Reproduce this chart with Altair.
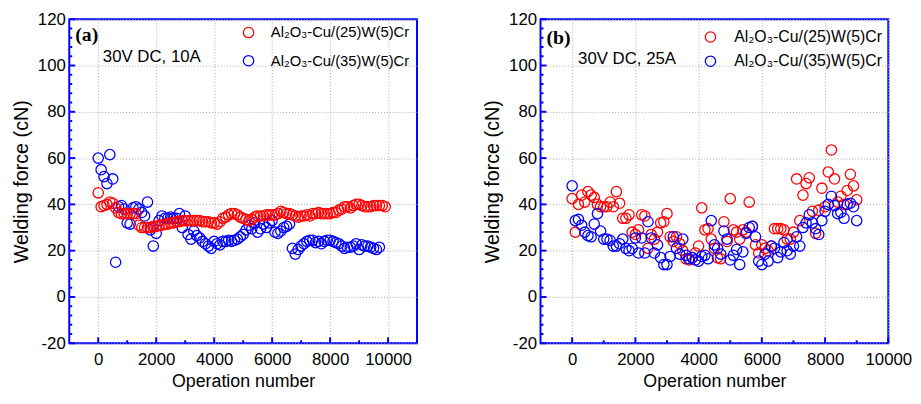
import altair as alt
import pandas as pd

SERIES = ["Al₂O₃-Cu/(25)W(5)Cr", "Al₂O₃-Cu/(35)W(5)Cr"]
COLORS = ["#ff0000", "#0000ff"]

# ---------- panel (a): 30V DC, 10A ----------
a_red_ops = list(range(0, 10000, 100))
a_red = [45, 39, 39.5, 40, 41, 40.5, 38.5, 36.5, 36, 36,
         36, 36, 36, 36, 31, 30, 30, 30, 30, 30.5,
         30.5, 31, 31, 31.5, 31.5, 32, 32, 32.5, 32.5, 33,
         33, 33, 33, 33, 33, 33, 32.5, 32.5, 32.5, 32,
         32, 31.5, 32.5, 34, 34.5, 35.5, 36, 36, 35.5, 34.5,
         34, 33.5, 33, 33.5, 34.5, 35, 35, 35, 35.5, 35.5,
         35.5, 35.5, 36, 37, 36.5, 36, 36, 35.5, 35, 34.5,
         35, 35, 35.5, 35, 36, 36, 36.5, 36, 36, 36,
         36, 36.5, 36.5, 37.5, 38, 39, 39, 38.5, 39.5, 40,
         40, 39.5, 39, 39, 39, 39.5, 39.5, 39.5, 39.5, 39]
a_blue_ops = list(range(0, 9800, 100))
a_blue = [60, 55, 52, 49, 61.5, 51, 15, 39, 39.5, 38,
          32, 31.5, 38.5, 39, 38, 36.5, 35, 41, 29, 22,
          27.5, 33, 35, 34, 34, 34.5, 34, 34, 36, 30,
          35, 27, 25, 28.5, 26.5, 25.5, 24, 23, 22, 21,
          24, 23, 22.5, 24, 24, 24.5, 24, 24.5, 25, 26,
          27, 29, 31, 29.5, 32, 28, 29.5, 31.5, 30, 32,
          33, 28, 27.5, 28.5, 30, 30.5, 31.5, 21, 18.5, 20.5,
          22, 23, 24, 24.5, 24.5, 23.5, 24, 23, 24, 24.5,
          24.5, 24, 23.5, 23, 22, 21, 21.5, 21.5, 22, 23,
          20.5, 22.5, 22, 22, 21.5, 21, 20.5, 21.5]

# ---------- panel (b): 30V DC, 25A ----------
b_ops = list(range(0, 9100, 100))
b_red = [42.5, 28, 40, 44, 41, 45.5, 44, 43, 40, 39,
         39, 39, 41, 39, 45.5, 40.5, 34, 34, 35.5, 28,
         27, 29, 35.5, 35, 21, 27, 25, 28, 32, 32.5,
         36, 26, 24, 26, 23, 20, 16.5, 16, 17, 19,
         22, 38.5, 29, 29.5, 25, 21, 17, 16.5, 32.5, 24,
         42.5, 29, 28, 25, 29, 28, 41, 30.5, 22.5, 19,
         22.5, 21, 20, 22, 29.5, 29.5, 29.5, 29, 25, 25,
         28, 51, 33, 44, 49, 51.5, 37, 27.5, 37.5, 47,
         39, 54, 63.5, 51, 41, 43.5, 40, 46, 53, 48,
         42]
b_blue = [48, 33, 33.5, 31, 28, 26.5, 26, 31.5, 36, 28.5,
          25, 25, 24.5, 22, 22, 23, 25, 21, 20, 21,
          25.5, 19, 25.5, 19, 32.5, 25.5, 19, 22.5, 17, 14,
          14, 17.5, 26, 21, 18.5, 25, 18, 16.5, 17, 16,
          15.5, 17.5, 18, 16.5, 33, 22.5, 21, 18.5, 28.5, 25,
          16, 18, 20.5, 14, 19.5, 27.5, 30, 30.5, 26, 15.5,
          14, 18.5, 15.5, 22, 21, 17, 19.5, 23.5, 20, 18.5,
          22, 26, 22, 30, 32, 35.5, 32, 29.5, 27, 33,
          37, 40, 43.5, 39.5, 36, 36.5, 34, 40, 40.5, 39,
          33]

panel_tags = ["(a)", "(b)"]
conditions = ["30V DC, 10A", "30V DC, 25A"]

Y_MAJOR = [-20, 0, 20, 40, 60, 80, 100, 120]
Y_MINOR = [v for v in range(-16, 120, 4) if v % 20 != 0]
X_MAJOR = [0, 2000, 4000, 6000, 8000, 10000]
X_MINOR = [1000, 3000, 5000, 7000, 9000]

W, H = 352, 328
FRAME = "#0000ff"


def frame_df(ops, vals, name):
    return pd.DataFrame({"op": ops, "force": vals, "series": name})


def panel(df, xdomain, tag, cond, legx, legy, rowpad, laboff, legfs, condx, condy, tagy):
    xs = alt.Scale(domain=xdomain, nice=False, zero=False)
    ys = alt.Scale(domain=[-20, 120], nice=False, zero=False)
    xax = alt.Axis(values=X_MAJOR, title="Operation number", grid=True,
                   format="d", labelOverlap=False, labelFlush=False)
    yax = alt.Axis(values=Y_MAJOR, title="Welding force (cN)", grid=True,
                   labelExpr="'' + datum.value", labelOverlap=False, labelFlush=False)
    pts = alt.Chart(df).mark_point(
        shape="circle", filled=False, size=110, strokeWidth=1.3, opacity=1
    ).encode(
        x=alt.X("op:Q", scale=xs, axis=xax, title="Operation number"),
        y=alt.Y("force:Q", scale=ys, axis=yax, title="Welding force (cN)"),
        color=alt.Color("series:N",
                        scale=alt.Scale(domain=SERIES, range=COLORS),
                        legend=alt.Legend(orient="none", legendX=legx, legendY=legy,
                                          title=None, padding=0, rowPadding=rowpad,
                                          labelOffset=laboff, labelFontSize=legfs,
                                          labelFont="Liberation Sans", labelColor="black",
                                          labelLimit=400,
                                          symbolSize=110, symbolStrokeWidth=1.3,
                                          symbolType="circle")),
    )
    ymaj = alt.Chart(pd.DataFrame({"force": Y_MAJOR})).mark_rule(color=FRAME, strokeWidth=2).encode(
        y=alt.Y("force:Q", scale=ys, axis=yax, title="Welding force (cN)"),
        x=alt.value(0), x2=alt.value(6))
    ymin = alt.Chart(pd.DataFrame({"force": Y_MINOR})).mark_rule(color=FRAME, strokeWidth=2).encode(
        y=alt.Y("force:Q", scale=ys, axis=yax, title="Welding force (cN)"),
        x=alt.value(0), x2=alt.value(3))
    xmaj = alt.Chart(pd.DataFrame({"op": X_MAJOR})).mark_rule(color=FRAME, strokeWidth=2).encode(
        x=alt.X("op:Q", scale=xs, axis=xax, title="Operation number"),
        y=alt.value(H), y2=alt.value(H - 6))
    xmin = alt.Chart(pd.DataFrame({"op": X_MINOR})).mark_rule(color=FRAME, strokeWidth=2).encode(
        x=alt.X("op:Q", scale=xs, axis=xax, title="Operation number"),
        y=alt.value(H), y2=alt.value(H - 3))
    tag_l = alt.Chart(pd.DataFrame({"t": [tag]})).mark_text(
        font="Liberation Serif", fontWeight="bold", fontSize=20, align="left",
        baseline="middle", color="black").encode(
        text="t:N", x=alt.value(6), y=alt.value(tagy))
    cond_l = alt.Chart(pd.DataFrame({"t": [cond]})).mark_text(
        font="Liberation Sans", fontSize=17, align="left", baseline="middle",
        color="black").encode(
        text="t:N", x=alt.value(condx), y=alt.value(condy))
    return alt.layer(pts, ymaj, ymin, xmaj, xmin, tag_l, cond_l).properties(width=W, height=H)


df_a = pd.concat([frame_df(a_blue_ops, a_blue, SERIES[1]),
                  frame_df(a_red_ops, a_red, SERIES[0])], ignore_index=True)
df_b = pd.concat([frame_df(b_ops, b_red, SERIES[0]),
                  frame_df(b_ops, b_blue, SERIES[1])], ignore_index=True)

pa = panel(df_a, [-1000, 11000], panel_tags[0], conditions[0],
           174, 6, 11.5, 15, 15, 34, 38, 16)
pb = panel(df_b, [-1000, 10000], panel_tags[1], conditions[1],
           164, 10, 8.5, 16, 16, 38, 40, 19)

chart = alt.hconcat(pa, pb, spacing=64).resolve_scale(
    color="independent").resolve_legend(color="independent").properties(
    padding={"left": 2, "top": -1, "right": 0, "bottom": 0}
).configure_view(
    stroke=FRAME, strokeWidth=2
).configure_axis(
    labelFont="Liberation Sans", titleFont="Liberation Sans",
    labelFontSize=17, labelColor="black", titleColor="black",
    titleFontWeight="normal", domain=False, ticks=False, tickSize=0,
    gridColor="#aaaaaa", gridDash=[1, 2], gridWidth=1, gridOpacity=1
).configure_axisX(
    labelPadding=8, titlePadding=6, titleFontSize=18
).configure_axisY(
    labelPadding=4, titlePadding=6, titleFontSize=20
)

chart.save("out.html", embed_options={"renderer": "svg", "actions": False})
